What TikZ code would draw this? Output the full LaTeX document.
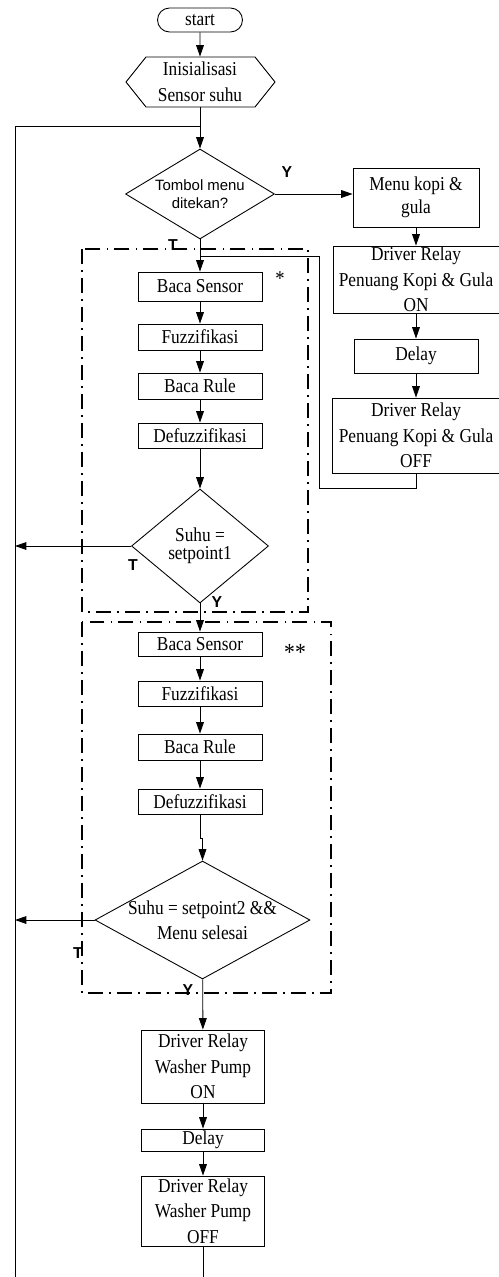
\documentclass[tikz,border=0pt]{standalone}
\usepackage{fontspec}
\setmainfont{Liberation Serif}[FakeStretch=0.88]
\setsansfont{Liberation Sans}
\usetikzlibrary{arrows.meta,shapes.geometric,shapes.misc}

\begin{document}
\begin{tikzpicture}[x=0.02cm,y=-0.02cm,font=\fontsize{11.2}{14.5}\selectfont,line width=0.5pt,
  proc/.style={draw,align=center,inner xsep=0pt,inner ysep=-6pt,minimum width=2.48cm},
  decision/.style={draw,diamond,inner sep=0pt,align=center},
  flow/.style={-{Triangle[length=6.5pt,width=4.4pt]}},
  yt/.style={font=\sffamily\bfseries\fontsize{9}{10}\selectfont,inner sep=0pt},
  frame/.style={line width=1.1pt,dash pattern=on 8.5pt off 3.5pt on 1pt off 3.5pt}]
  \useasboundingbox (0,0) rectangle (499,1277);

  % dash-dot groups
  \draw[frame] (82,249) rectangle (308,612);
  \draw[frame] (82,622) rectangle (331,993);
  \node[font=\fontsize{12}{12}\selectfont] (star1) at (280,279) {*};
  \node[font=\fontsize{14}{14}\selectfont] (star2) at (295,652) {**};

  % main column
  \node[draw,rounded rectangle,minimum width=1.7cm,minimum height=0.48cm,inner sep=0pt] (start) at (200,20) {start};
  \node[align=center,minimum height=1.0cm,inner sep=0pt] (init) at (200,82) {Inisialisasi\\Sensor suhu};
  \draw (126,82) -- (146,57) -- (255,57) -- (275,82) -- (255,107) -- (146,107) -- cycle;
  \node[decision,aspect=1.66,minimum width=2.98cm,minimum height=1.8cm,
    font=\sffamily\fontsize{8.5}{10.4}\selectfont] (menuq) at (200,194) {Tombol menu\\ditekan?};

  \node[proc,minimum height=0.58cm] (bs1) at (200,286.5) {Baca Sensor};
  \node[proc,minimum height=0.52cm] (fz1) at (200,337) {Fuzzifikasi};
  \node[proc,minimum height=0.52cm] (br1) at (200,386) {Baca Rule};
  \node[proc,minimum height=0.5cm] (df1) at (200,435.5) {Defuzzifikasi};
  \node[decision,aspect=1.2,minimum width=2.74cm,minimum height=2.28cm,
    font=\fontsize{11.2}{10.5}\selectfont] (sp1) at (200,546) {Suhu =\\setpoint1};

  \node[proc,minimum height=0.48cm] (bs2) at (200,644) {Baca Sensor};
  \node[proc,minimum height=0.5cm] (fz2) at (200,693.5) {Fuzzifikasi};
  \node[proc,minimum height=0.52cm] (br2) at (200,747) {Baca Rule};
  \node[proc,minimum height=0.5cm] (df2) at (200,801.5) {Defuzzifikasi};
  \node[decision,minimum width=4.3cm,minimum height=2.36cm] (sp2) at (202.5,920) {};
  \node[align=center,inner sep=0pt] (sp2txt) at (sp2) {Suhu = setpoint2 \&\&\\Menu selesai};

  \node[proc,minimum width=2.46cm,minimum height=1.46cm] (wpon) at (203,1066.5) {Driver Relay\\Washer Pump\\ON};
  \node[proc,minimum width=2.46cm,minimum height=0.44cm] (wpdly) at (203,1140) {Delay};
  \node[proc,minimum width=2.46cm,minimum height=1.4cm] (wpoff) at (203,1211) {Driver Relay\\Washer Pump\\OFF};

  % right column
  \node[proc,minimum width=2.52cm,minimum height=1.18cm,font=\fontsize{11.2}{12.8}\selectfont] (menu) at (416,197.5) {Menu kopi \&\\gula};
  \node[proc,minimum width=3.32cm,minimum height=1.34cm] (kopion) at (416,279.5) {Driver Relay\\Penuang Kopi \& Gula\\ON};
  \node[proc,minimum height=0.68cm] (kopidly) at (416,356) {Delay};
  \node[proc,minimum width=3.36cm,minimum height=1.5cm] (kopioff) at (416,435.5) {Driver Relay\\Penuang Kopi \& Gula\\OFF};

  \coordinate (loopT) at (15,126);
  \coordinate (loopB) at (15,1277);
  \coordinate (ret) at (319,256);

  % connectors
  \draw[flow] (start) -- (init);
  \draw (loopB) -- (loopT) -- (init.south |- loopT);
  \draw[flow] (init) -- (menuq);
  \draw[flow] (menuq.east) -- (menuq.east -| menu.west);
  \draw[flow] (menuq) -- (bs1);
  \draw[flow] (menu) -- (kopion);
  \draw[flow] (kopion) -- (kopidly);
  \draw[flow] (kopidly) -- (kopioff);
  \draw (kopioff.south) -- ++(0,15) -| (ret) -- (bs1.north |- ret);
  \draw[flow] (bs1) -- (fz1);
  \draw[flow] (fz1) -- (br1);
  \draw[flow] (br1) -- (df1);
  \draw[flow] (df1) -- (sp1);
  \draw[flow] (sp1.west) -- (sp1.west -| loopT);
  \draw[flow] (sp1) -- (bs2);
  \draw[flow] (bs2) -- (fz2);
  \draw[flow] (fz2) -- (br2);
  \draw[flow] (br2) -- (df2);
  \draw[flow] (df2.south) -- ++(0,24) -| (sp2.north);
  \draw[flow] (sp2.west) -- (sp2.west -| loopT);
  \draw[flow] (sp2) -- (wpon);
  \draw[flow] (wpon) -- (wpdly);
  \draw[flow] (wpdly) -- (wpoff);
  \draw (wpoff.south) -- (wpoff.south |- loopB);

  % branch labels
  \node[yt] (y1) at (287,172) {Y};
  \node[yt] (t1) at (173,245) {T};
  \node[yt] (t2) at (133,565) {T};
  \node[yt] (y2) at (217,602) {Y};
  \node[yt] (t3) at (78,953) {T};
  \node[yt] (y3) at (188,990) {Y};
\end{tikzpicture}
\end{document}
